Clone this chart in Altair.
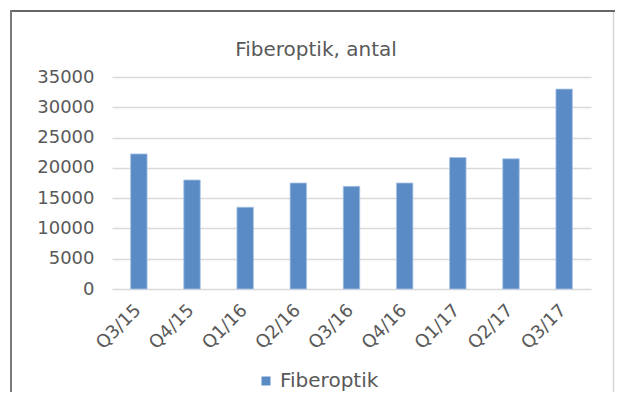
import altair as alt
import pandas as pd

categories = ["Q3/15", "Q4/15", "Q1/16", "Q2/16", "Q3/16", "Q4/16", "Q1/17", "Q2/17", "Q3/17"]
values = [22300, 18000, 13500, 17500, 16950, 17500, 21700, 21500, 33000]
series_name = "Fiberoptik"
title_text = "Fiberoptik, antal"
y_ticks = [0, 5000, 10000, 15000, 20000, 25000, 30000, 35000]

df = pd.DataFrame({"kvartal": categories, "antal": values, "serie": [series_name] * len(categories)})

FONT = "DejaVu Sans"
GRAY = "#595959"
W, H = 479, 212

bars = alt.Chart(df).mark_bar(
    stroke="#a9c4e6", strokeWidth=0.8
).encode(
    x=alt.X("kvartal:N", sort=categories,
            scale=alt.Scale(paddingInner=0.69, paddingOuter=0.35),
            axis=alt.Axis(title=None, labelAngle=-45, labelFontSize=18, labelFont=FONT,
                          labelColor=GRAY, ticks=False, domain=False, labelPadding=12,
                          labelOffset=-7, grid=False)),
    y=alt.Y("antal:Q", scale=alt.Scale(domain=[0, 35000], nice=False),
            axis=alt.Axis(title=None, values=y_ticks, format="d", labelFontSize=18, labelFont=FONT,
                          labelColor=GRAY, ticks=False, domain=False, labelPadding=18,
                          grid=True, gridColor="#d9d9d9", gridWidth=1.4)),
    color=alt.Color("serie:N", scale=alt.Scale(range=["#5b8bc5"]),
                    legend=alt.Legend(title=None, orient="none", legendX=144, legendY=294,
                                      symbolType="square", symbolSize=81, symbolStrokeWidth=0,
                                      labelFontSize=20, labelFont=FONT, labelColor=GRAY,
                                      padding=0, labelOffset=4))
)

one = alt.Data(values=[{}])

title = alt.Chart(one).mark_text(
    text=title_text, font=FONT, fontSize=20, color=GRAY, align="center", baseline="alphabetic"
).encode(x=alt.value(204), y=alt.value(-21.5))

top_border = alt.Chart(one).mark_rule(color="#666666", strokeWidth=2).encode(
    x=alt.value(-102), x2=alt.value(503), y=alt.value(-66))
left_border = alt.Chart(one).mark_rule(color="#7a7a7a", strokeWidth=2).encode(
    x=alt.value(-101), y=alt.value(-67), y2=alt.value(330))
right_border = alt.Chart(one).mark_rule(color="#d6d6d6", strokeWidth=1.5).encode(
    x=alt.value(501.5), y=alt.value(-65), y2=alt.value(330))

chart = alt.layer(bars, title, top_border, left_border, right_border).properties(
    width=W, height=H,
    background="white",
    autosize=alt.AutoSizeParams(type="none"),
    padding={"left": 104, "top": 69, "right": 24, "bottom": 103},
).configure_view(stroke="transparent", strokeWidth=0)

chart.save("out.html", embed_options={"renderer": "svg", "actions": False})
